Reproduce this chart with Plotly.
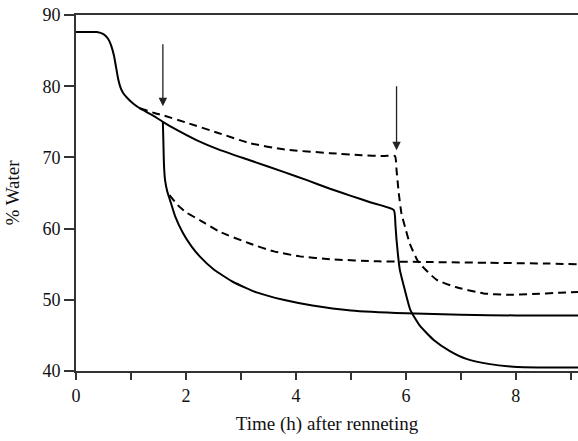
import plotly.graph_objects as go

# Control curve (solid), second cut at ~5.8 h
ctrl_x = [0, 0.2, 0.38, 0.5, 0.58, 0.64, 0.69, 0.73, 0.77, 0.81, 0.86, 0.95, 1.05, 1.16, 1.3, 1.44, 1.58,
          1.8, 2.2, 2.6, 3.16, 3.8, 4.2, 4.62, 5.0, 5.35, 5.78, 5.81, 5.83, 5.89, 5.98, 6.08, 6.25, 6.5,
          6.8, 7.1, 7.5, 7.95, 8.5, 9.13]
ctrl_y = [87.6, 87.6, 87.6, 87.3, 86.7, 85.7, 84.3, 82.6, 80.9, 79.8, 79.0, 78.2, 77.5, 76.9, 76.3, 75.7, 75.0,
          74.0, 72.4, 71.1, 69.6, 67.9, 66.8, 65.6, 64.6, 63.7, 62.6, 60.5, 58.4, 54.2, 51.4, 48.6, 46.4, 44.4,
          42.8, 41.7, 41.0, 40.6, 40.5, 40.5]

# Early cut at ~1.6 h (solid)
early_x = [1.58, 1.59, 1.60, 1.62, 1.66, 1.71, 1.8, 1.95, 2.1, 2.25, 2.5, 2.86, 3.3, 3.77, 4.3, 5.0, 6.0, 7.0, 8.0, 9.13]
early_y = [75.0, 72.0, 69.0, 66.8, 65.2, 64.0, 61.8, 59.3, 57.5, 56.1, 54.3, 52.5, 51.0, 50.0, 49.2, 48.5, 48.1, 47.9, 47.8, 47.8]

# Upper dashed curve, cut at ~5.8 h
dup_x = [1.16, 1.44, 1.59, 2.0, 2.6, 3.16, 3.8, 4.62, 5.2, 5.6, 5.8, 5.83, 5.87, 5.92, 6.0, 6.07, 6.22, 6.4,
         6.56, 6.9, 7.41, 7.83, 8.3, 8.8, 9.13]
dup_y = [76.9, 76.2, 75.9, 74.9, 73.4, 72.0, 71.1, 70.6, 70.3, 70.2, 70.2, 68.2, 65.0, 62.1, 59.8, 57.9, 55.4, 53.9,
         52.8, 51.8, 50.9, 50.7, 50.8, 51.0, 51.1]

# Lower dashed curve, cut at ~1.6 h
dlo_x = [1.70, 1.85, 2.0, 2.25, 2.6, 3.16, 3.6, 4.07, 4.62, 5.5, 6.5, 7.5, 8.5, 9.13]
dlo_y = [64.7, 63.3, 62.3, 61.2, 59.6, 57.9, 56.8, 56.1, 55.7, 55.4, 55.3, 55.2, 55.1, 55.0]

# Arrows marking the cutting times
arrow_x = [1.58, 5.83]
arrow_top = [86.1, 80.2]
arrow_tip = [77.2, 71.0]

x_ticks = [0, 1, 2, 3, 4, 5, 6, 7, 8, 9]
x_labels = ["0", "", "2", "", "4", "", "6", "", "8", ""]
y_ticks = [40, 50, 60, 70, 80, 90]

fig = go.Figure()
line_col = "#000000"
sp = dict(shape="spline", smoothing=0.5)
fig.add_trace(go.Scatter(x=ctrl_x, y=ctrl_y, mode="lines", line=dict(color=line_col, width=2, **sp)))
fig.add_trace(go.Scatter(x=early_x, y=early_y, mode="lines", line=dict(color=line_col, width=2, **sp)))
fig.add_trace(go.Scatter(x=dup_x, y=dup_y, mode="lines", line=dict(color=line_col, width=2, dash="8px,5px", **sp)))
fig.add_trace(go.Scatter(x=dlo_x, y=dlo_y, mode="lines", line=dict(color=line_col, width=2, dash="8px,5px", **sp)))

for ax_, top, tip in zip(arrow_x, arrow_top, arrow_tip):
    fig.add_annotation(x=ax_, y=tip, ax=ax_, ay=top, xref="x", yref="y", axref="x", ayref="y",
                       showarrow=True, arrowhead=2, arrowsize=1.3, arrowwidth=1.3, arrowcolor="#222", text="")

font_family = "Liberation Serif, DejaVu Serif, serif"
fig.update_layout(
    width=578, height=441,
    margin=dict(l=76, r=0, t=15, b=70),
    plot_bgcolor="white", paper_bgcolor="white",
    showlegend=False,
    font=dict(family=font_family, size=18, color="#111"),
)
fig.update_xaxes(range=[0, 9.13], tickvals=x_ticks, ticktext=x_labels, ticks="outside", ticklen=7,
                 tickwidth=1.5, tickcolor="#333", showline=True, linecolor="#333", linewidth=2, mirror=True,
                 showgrid=False, zeroline=False, automargin=False,
                 title=dict(text="Time (h) after renneting", font=dict(size=19), standoff=12))
fig.update_yaxes(range=[40, 90], tickvals=y_ticks, ticks="outside", ticklen=10, tickwidth=1.5,
                 tickcolor="#333", showline=True, linecolor="#333", linewidth=2, showgrid=False, zeroline=False,
                 automargin=False,
                 title=dict(text="% Water", font=dict(size=19), standoff=18))

fig.write_html("out.html", config={"displayModeBar": False},
               post_script="document.body.style.margin='0';document.body.style.overflow='hidden';")
